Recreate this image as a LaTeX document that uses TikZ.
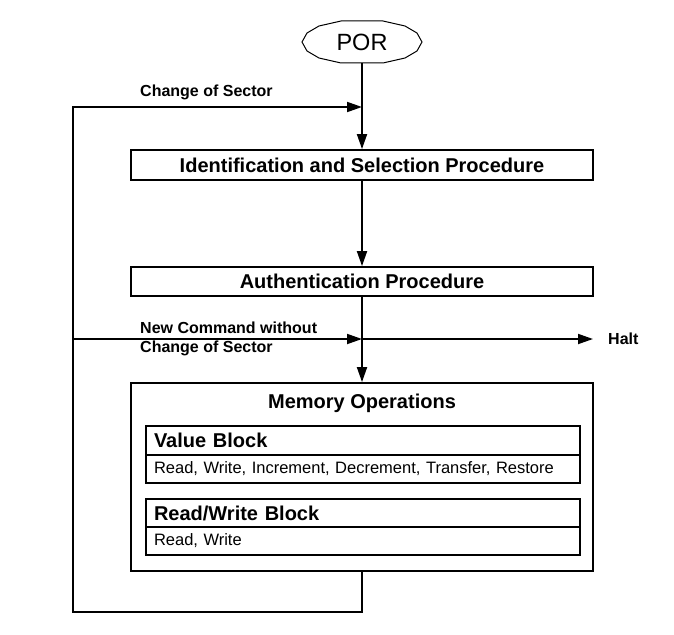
\documentclass[tikz,border=0pt]{standalone}
\usepackage{fontspec}
\setmainfont{Liberation Sans}
\usetikzlibrary{arrows.meta}
\begin{document}
\begin{tikzpicture}[x=1pt,y=-1pt,
  conn/.style={line width=1.8pt, -{Triangle[length=15pt,width=10pt]}},
  procbox/.style={draw, line width=1.8pt, rectangle, minimum width=462pt, inner sep=0pt,
    font=\fontsize{20}{24}\selectfont\bfseries},
  subtitle/.style={draw, line width=1.8pt, rectangle, text width=418pt, align=left,
    inner xsep=8pt, inner ysep=0pt, minimum height=28.5pt, font=\fontsize{20}{24}\selectfont\bfseries},
  subops/.style={draw, line width=1.8pt, rectangle, text width=418pt, align=left,
    inner xsep=8pt, inner ysep=0pt, minimum height=28pt, font=\fontsize{16.5}{20}\selectfont},
  lbl/.style={anchor=west, inner sep=0pt, align=left, font=\fontsize{16}{19}\selectfont\bfseries},
]
\useasboundingbox (0,0) rectangle (674,634);

% POR terminal
\node[minimum width=120pt, minimum height=42pt, inner sep=0pt,
  font=\fontsize{23.5}{26}\selectfont] (por) at (362,42) {POR};
\draw[line width=1pt, shift={(por.center)}] (60,0) -- (55,-9) -- (43,-16) -- (21,-21) -- (-21,-21)
  -- (-43,-16) -- (-55,-9) -- (-60,0) -- (-55,9) -- (-43,16) -- (-21,21) -- (21,21)
  -- (43,16) -- (55,9) -- cycle;

% boxes
\node[procbox, minimum height=30pt] (ident) at (362,165) {Identification and Selection Procedure};
\node[procbox, minimum height=29pt] (auth) at (362,281.5) {Authentication Procedure};
\node[procbox, minimum height=188pt] (mem) at (362,477) {};
\node[inner sep=0pt, font=\fontsize{20}{24}\selectfont\bfseries] (memt) at (362,403) {Memory Operations};

\node[subtitle] (vbt) at (363,440.5) {Value Block};
\node[subops] (vbo) at (363,469) {Read, Write, Increment, Decrement, Transfer, Restore};
\node[subtitle] (rwt) at (363,513) {Read/Write Block};
\node[subops] (rwo) at (363,541) {Read, Write};

% loop coordinates
\coordinate (ctop) at (362,107);
\coordinate (cl1) at (73,107);
\coordinate (cmid) at (362,339);
\coordinate (cl2) at (73,339);
\coordinate (cbot) at (362,612);
\coordinate (cbl) at (73,612);
\coordinate (chalt) at (593,339);

% labels
\node[lbl] (lcs) at (140,92) {Change of Sector};
\node[lbl] (lnc) at (140,338.5) {New Command without\\Change of Sector};
\node[lbl] (halt) at (608,339) {Halt};

% connectors
\draw[conn] (por.south) -- (ident.north);
\draw[conn] (ident.south) -- (auth.north);
\draw[conn] (auth.south) -- (mem.north);
\draw[conn] (mem.south) -- (cbot) -- (cbl) -- (cl1) -- (ctop);
\draw[conn] (cl2) -- (cmid);
\draw[conn] (cmid) -- (chalt);
\end{tikzpicture}
\end{document}
